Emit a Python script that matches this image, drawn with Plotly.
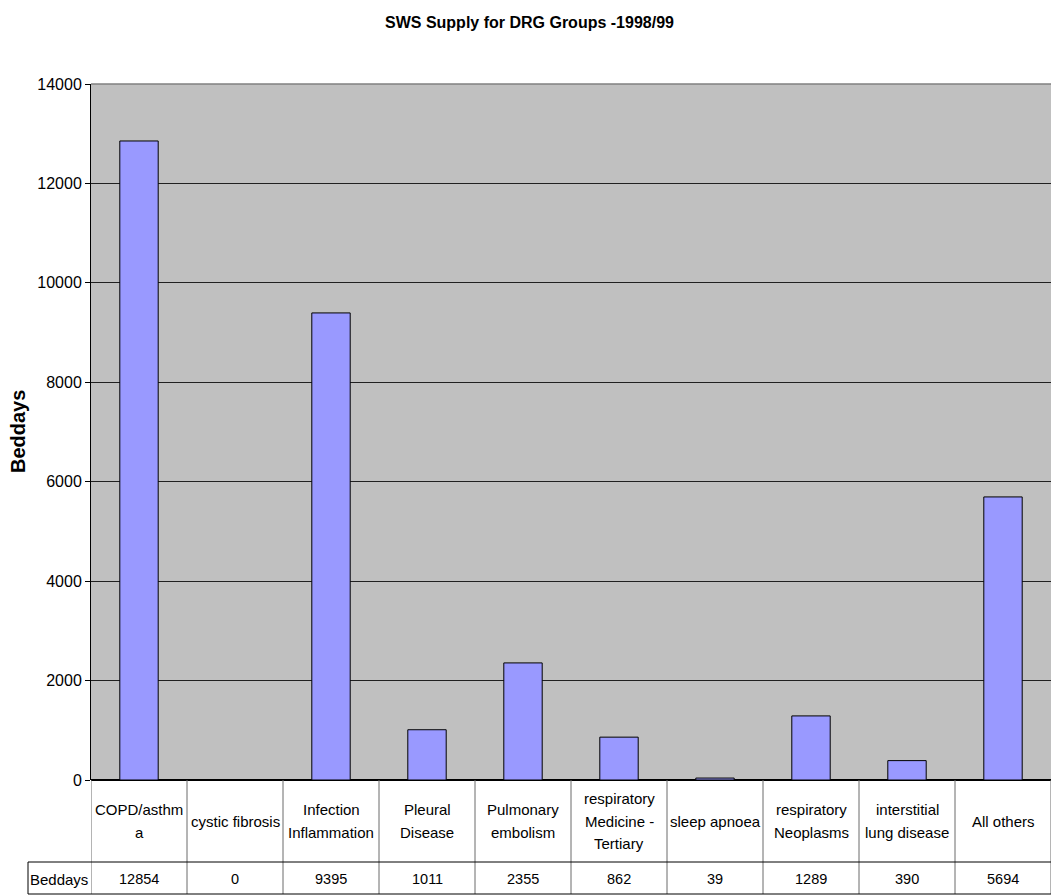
import plotly.graph_objects as go

categories = ["COPD/asthm<br>a", "cystic fibrosis", "Infection<br>Inflammation", "Pleural<br>Disease",
              "Pulmonary<br>embolism", "respiratory<br>Medicine -<br>Tertiary", "sleep apnoea",
              "respiratory<br>Neoplasms", "interstitial<br>lung disease", "All others"]
values = [12854, 0, 9395, 1011, 2355, 862, 39, 1289, 390, 5694]
series_name = "Beddays"
y_ticks = [0, 2000, 4000, 6000, 8000, 10000, 12000, 14000]

W, H = 1051, 895
L, R, T, B = 91, 0, 84, 115
ph = H - T - B
pw = W - L - R

def py(pix):
    return (H - B - pix) / ph

def px(pix):
    return (pix - L) / pw

FONT = "Liberation Sans, Arial, sans-serif"
xs = list(range(len(categories)))

fig = go.Figure(go.Bar(
    x=xs, y=values, width=0.4,
    marker=dict(color="#9999FF", line=dict(color="black", width=1)),
    hoverinfo="skip",
))

shapes = []
row1_bot = py(862)
row2_bot = py(894)
for i in range(len(categories) + 1):
    shapes.append(dict(type="line", xref="x", yref="paper", x0=i - 0.5, x1=i - 0.5, y0=0, y1=row2_bot,
                       line=dict(color="#6a6a6a", width=1)))
for yy in [row1_bot, row2_bot]:
    shapes.append(dict(type="line", xref="paper", yref="paper", x0=px(28), x1=1, y0=yy, y1=yy,
                       line=dict(color="black", width=1)))
shapes.append(dict(type="line", xref="paper", yref="paper", x0=px(28), x1=px(28), y0=row1_bot, y1=row2_bot,
                   line=dict(color="black", width=1)))
shapes.append(dict(type="line", xref="paper", yref="paper", x0=0, x1=1, y0=1, y1=1,
                   line=dict(color="#808080", width=1.5)))

annotations = []
LINE_H = 23
cell_mid = 821
for i, (c, v) in enumerate(zip(categories, values)):
    lines = c.split("<br>")
    n = len(lines)
    for k, ln in enumerate(lines):
        ypix = cell_mid + (k - (n - 1) / 2) * LINE_H
        annotations.append(dict(x=i, xref="x", y=py(ypix), yref="paper", text=ln,
                                showarrow=False, font=dict(family=FONT, size=15, color="black"),
                                xanchor="center", yanchor="middle", align="center"))
    annotations.append(dict(x=i, xref="x", y=py(879), yref="paper", text=str(v),
                            showarrow=False, font=dict(family=FONT, size=14.5, color="black"),
                            xanchor="center", yanchor="middle"))
annotations.append(dict(x=px(59), xref="paper", y=py(879), yref="paper",
                        text=series_name, showarrow=False, font=dict(family=FONT, size=15, color="black"),
                        xanchor="center", yanchor="middle"))
annotations.append(dict(x=px(18), xref="paper", y=py(432), yref="paper", text="<b>Beddays</b>",
                        textangle=-90, showarrow=False, font=dict(family=FONT, size=20, color="black"),
                        xanchor="center", yanchor="middle"))
annotations.append(dict(x=px(529), xref="paper", y=py(22), yref="paper",
                        text="<b>SWS Supply for DRG Groups -1998/99</b>", showarrow=False,
                        font=dict(family=FONT, size=16, color="black"), xanchor="center", yanchor="middle"))

fig.update_layout(
    width=W, height=H,
    margin=dict(l=L, r=R, t=T, b=B, pad=0),
    paper_bgcolor="white", plot_bgcolor="#C0C0C0",
    showlegend=False, bargap=0.6,
    shapes=shapes, annotations=annotations,
    xaxis=dict(range=[-0.5, len(categories) - 0.5], showticklabels=False, ticks="",
               showgrid=False, zeroline=False, showline=False, fixedrange=True),
    yaxis=dict(range=[0, 14000], tickvals=y_ticks, ticktext=[str(t) for t in y_ticks],
               ticks="outside", ticklen=5, tickcolor="black",
               showgrid=True, gridcolor="#202020", gridwidth=1, zeroline=True, zerolinecolor="black",
               showline=True, linecolor="black", linewidth=1,
               tickfont=dict(family=FONT, size=16, color="black"), fixedrange=True),
)

fig.write_html("out.html")
